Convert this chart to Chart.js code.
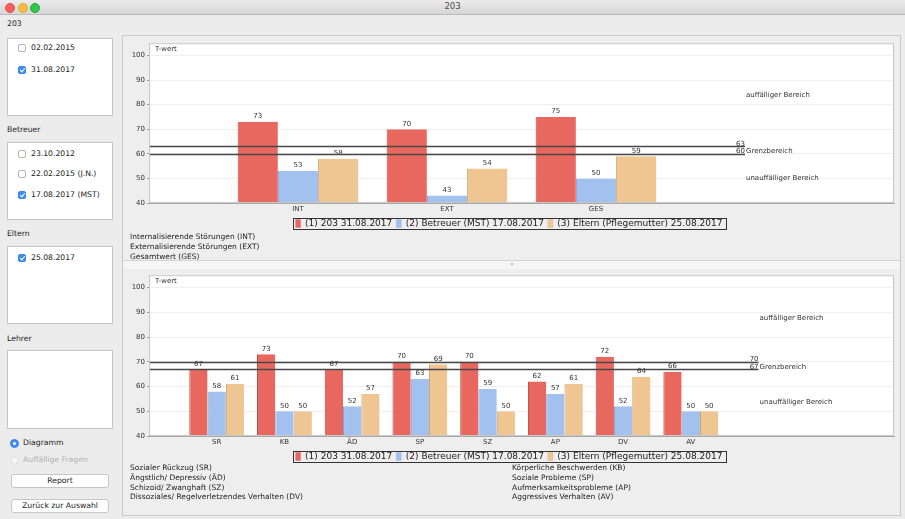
<!DOCTYPE html>
<html>
<head>
<meta charset="utf-8">
<script src="https://cdn.jsdelivr.net/npm/chart.js@4.4.1/dist/chart.umd.min.js"></script>
<style>
  body { margin: 0; width: 905px; height: 519px; background: #ececec; overflow: hidden; position: relative;
         font-family: "DejaVu Sans", sans-serif; color: #222; }
  .abs { position: absolute; }
  .titlebar { left: 0; top: 0; width: 905px; height: 14px; background: linear-gradient(#ebebeb, #d6d6d6);
              border-bottom: 1px solid #b8b8b8; }
  .light { width: 8px; height: 8px; border-radius: 50%; top: 3px; }
  .title { left: 0; width: 905px; top: 1px; text-align: center; font-size: 8.5px; color: #4d4d4d; }
  .lbl { font-size: 7.7px; color: #222; }
  .box { background: #fff; border: 1px solid #c4c4c4; }
  .item { font-size: 7.7px; line-height: 10px; }
  .cb { width: 8px; height: 8px; border-radius: 2px; border: 1px solid #b5b5b5; background: #fff; box-sizing: border-box; }
  .cb.on { background: #3d8ff5; border-color: #3a85e6; }
  .cb.on::after { content: ""; position: absolute; left: 2px; top: 0px; width: 2px; height: 4px;
                  border: solid #fff; border-width: 0 1.2px 1.2px 0; transform: rotate(40deg); }
  .radio { width: 9px; height: 9px; border-radius: 50%; box-sizing: border-box; }
  .btn { background: #fff; border: 1px solid #c6c6c6; border-radius: 3px; font-size: 7.7px; text-align: center;
         line-height: 12px; box-sizing: border-box; }
  .panel { left: 122px; top: 35px; width: 779px; height: 481px; border: 1px solid #c9c9c9; box-sizing: border-box; background: #eeeeee; }
  .divider { left: 123px; top: 260px; width: 777px; height: 8px; background: #f5f5f5; border-top: 1px solid #d4d4d4; }
  .desc { font-size: 7.5px; line-height: 9.8px; color: #222; white-space: nowrap; }
</style>
</head>
<body>
<div class="abs titlebar"></div>
<div class="abs light" style="left:5px;background:#fc605b;border:0.5px solid #de4a44"></div>
<div class="abs light" style="left:18px;background:#fdbc40;border:0.5px solid #dea236"></div>
<div class="abs light" style="left:30px;background:#34c84a;border:0.5px solid #27aa35"></div>
<div class="abs title">203</div>

<!-- left side -->
<div class="abs lbl" style="left:7px;top:19px">203</div>
<div class="abs box" style="left:7px;top:38px;width:104px;height:76px"></div>
<div class="abs cb" style="left:18px;top:44px"></div><div class="abs item" style="left:31px;top:43px">02.02.2015</div>
<div class="abs cb on" style="left:18px;top:66px"></div><div class="abs item" style="left:31px;top:65px">31.08.2017</div>

<div class="abs lbl" style="left:7px;top:125px">Betreuer</div>
<div class="abs box" style="left:7px;top:142px;width:104px;height:76px"></div>
<div class="abs cb" style="left:18px;top:150px"></div><div class="abs item" style="left:31px;top:149px">23.10.2012</div>
<div class="abs cb" style="left:18px;top:170px"></div><div class="abs item" style="left:31px;top:169px">22.02.2015 (J.N.)</div>
<div class="abs cb on" style="left:18px;top:191px"></div><div class="abs item" style="left:31px;top:190px">17.08.2017 (MST)</div>

<div class="abs lbl" style="left:7px;top:229px">Eltern</div>
<div class="abs box" style="left:7px;top:246px;width:104px;height:76px"></div>
<div class="abs cb on" style="left:18px;top:254px"></div><div class="abs item" style="left:31px;top:253px">25.08.2017</div>

<div class="abs lbl" style="left:7px;top:334px">Lehrer</div>
<div class="abs box" style="left:7px;top:350px;width:104px;height:77px"></div>

<div class="abs radio" style="left:10px;top:439px;background:#3d8ff5;border:1px solid #3a85e6"></div>
<div class="abs" style="left:13px;top:442px;width:3px;height:3px;border-radius:50%;background:#fff"></div>
<div class="abs item" style="left:23px;top:438px">Diagramm</div>
<div class="abs radio" style="left:10px;top:456px;background:#f4f4f4;border:1px solid #dcdcdc"></div>
<div class="abs item" style="left:23px;top:455px;color:#b0b0b0">Auffällige Fragen</div>

<div class="abs btn" style="left:11px;top:474px;width:98px;height:14px">Report</div>
<div class="abs btn" style="left:11px;top:499px;width:98px;height:14px">Zurück zur Auswahl</div>

<!-- right side -->
<div class="abs panel"></div>
<div class="abs" style="left:124px;top:37px;width:774px;height:201px"><canvas id="topChart"></canvas></div>
<div class="abs desc" style="left:130px;top:232px">Internalisierende Störungen (INT)<br>Externalisierende Störungen (EXT)<br>Gesamtwert (GES)</div>
<div class="abs divider"></div>
<div class="abs" style="left:511px;top:263px;width:2px;height:2px;background:#aaa;border-radius:1px"></div>
<div class="abs" style="left:124px;top:269px;width:774px;height:202px"><canvas id="bottomChart"></canvas></div>
<div class="abs desc" style="left:130px;top:463px">Sozialer Rückzug (SR)<br>Ängstlich/ Depressiv (ÄD)<br>Schizoid/ Zwanghaft (SZ)<br>Dissoziales/ Regelverletzendes Verhalten (DV)</div>
<div class="abs desc" style="left:512px;top:463px">Körperliche Beschwerden (KB)<br>Soziale Probleme (SP)<br>Aufmerksamkeitsprobleme (AP)<br>Aggressives Verhalten (AV)</div>

<script>
// Series names
const seriesNames = [
  '(1) 203 31.08.2017',
  '(2) Betreuer (MST) 17.08.2017',
  '(3) Eltern (Pflegemutter) 25.08.2017',
];
const seriesColors = ['#e8685f', '#a2c1ee', '#efc591'];
const seriesEdges = ['#b9473f', '#7f9cc8', '#c79f6c'];

// Upper chart: scale totals
const topCategories = ['INT', 'EXT', 'GES'];
const topSelf = [73, 70, 75];
const topCarer = [53, 43, 50];
const topParent = [58, 54, 59];
const topLimits = [63, 60];

// Lower chart: syndrome scales
const bottomCategories = ['SR', 'KB', 'ÄD', 'SP', 'SZ', 'AP', 'DV', 'AV'];
const bottomSelf = [67, 73, 67, 70, 70, 62, 72, 66];
const bottomCarer = [58, 50, 52, 63, 59, 57, 52, 50];
const bottomParent = [61, 50, 57, 69, 50, 61, 64, 50];
const bottomLimits = [70, 67];

// y axis
const yTicks = [40, 50, 60, 70, 80, 90, 100];
const yMin = 40;
const yMax = 105;

const chartFont = 'DejaVu Sans';

// empty category slots before / after the real ones
function pad(arr, lead, trail, fill) {
  return [...Array(lead).fill(fill), ...arr, ...Array(trail).fill(fill)];
}

// white plot background
const plotBackground = {
  id: 'plotBackground',
  beforeDraw(chart) {
    const { ctx, chartArea: area } = chart;
    ctx.save();
    ctx.fillStyle = '#ffffff';
    ctx.fillRect(area.left, area.top, area.width, area.height);
    ctx.restore();
  },
};

const annotate = {
  id: 'annotate',
  afterDatasetsDraw(chart, args, opts) {
    const { ctx, chartArea: area, scales: { x, y } } = chart;
    ctx.save();

    // value above every bar
    ctx.fillStyle = '#333';
    ctx.font = `7px "${chartFont}"`;
    ctx.textAlign = 'center';
    ctx.textBaseline = 'bottom';
    chart.data.datasets.forEach((ds, i) => {
      chart.getDatasetMeta(i).data.forEach((bar, j) => {
        if (ds.data[j] == null) return;
        ctx.fillText(String(ds.data[j]), bar.x, bar.y - 2);
      });
    });

    // limit lines
    const endX = x.getPixelForValue(opts.endIndex);
    ctx.strokeStyle = '#474747';
    ctx.lineWidth = 1.6;
    opts.limits.forEach((v) => {
      const py = Math.round(y.getPixelForValue(v)) + 0.5;
      ctx.beginPath();
      ctx.moveTo(area.left, py);
      ctx.lineTo(endX, py);
      ctx.stroke();
    });

    ctx.font = `7px "${chartFont}"`;
    ctx.fillStyle = '#333';
    ctx.textBaseline = 'alphabetic';
    ctx.textAlign = 'right';
    opts.limits.forEach((v) => {
      ctx.fillText(String(v), endX, y.getPixelForValue(v) - 0.5);
    });
    ctx.textAlign = 'left';
    const hi = Math.max(...opts.limits);
    const lo = Math.min(...opts.limits);
    ctx.fillText('Grenzbereich', endX + 1, y.getPixelForValue(lo) - 0.5);
    ctx.textBaseline = 'middle';
    ctx.fillText('auffälliger Bereich', endX + 1, y.getPixelForValue((hi + yMax) / 2));
    ctx.fillText('unauffälliger Bereich', endX + 1, y.getPixelForValue((lo + yMin) / 2));

    // axis title inside the plot
    ctx.textBaseline = 'top';
    ctx.fillText('T-wert', area.left + 6, area.top + 2);

    // plot frame
    ctx.strokeStyle = '#c8c8c8';
    ctx.lineWidth = 1;
    ctx.strokeRect(area.left + 0.5, area.top + 0.5, area.width - 1, area.height - 1);
    ctx.restore();
  },
};

const legendFrame = {
  id: 'legendFrame',
  afterDraw(chart) {
    const boxes = chart.legend.legendHitBoxes;
    if (!boxes || !boxes.length) return;
    const left = boxes[0].left - 3;
    const last = boxes[boxes.length - 1];
    const right = last.left + last.width + 3;
    const top = boxes[0].top - 1;
    const { ctx } = chart;
    ctx.save();
    ctx.strokeStyle = '#333';
    ctx.lineWidth = 1;
    ctx.strokeRect(Math.round(left) + 0.5, Math.round(top) + 0.5, Math.round(right - left), boxes[0].height + 2);
    ctx.restore();
  },
};

function makeChart(canvasId, categories, values, limits, lead, trail) {
  const labels = pad(categories, lead, trail, '');
  const datasets = values.map((vals, i) => ({
    label: seriesNames[i],
    data: pad(vals, lead, trail, null),
    backgroundColor: seriesColors[i],
    borderColor: seriesEdges[i],
    borderWidth: { left: 1, top: 0, right: 0, bottom: 0 },
    borderSkipped: false,
    categoryPercentage: 0.81,
    barPercentage: 1.0,
  }));

  return new Chart(document.getElementById(canvasId).getContext('2d'), {
    type: 'bar',
    data: { labels, datasets },
    options: {
      responsive: true,
      maintainAspectRatio: false,
      animation: false,
      layout: { padding: { top: 5, right: 4, left: 0, bottom: 0 } },
      scales: {
        x: {
          offset: false,
          grid: { display: false, drawTicks: false, tickLength: 0 },
          border: { display: true, color: '#a8a8a8' },
          ticks: { autoSkip: false, maxRotation: 0, padding: 2, color: '#333', font: { family: chartFont, size: 7 } },
          afterFit: (scale) => { scale.height = 12; },
        },
        y: {
          min: yMin,
          max: yMax,
          grid: { color: '#efefef', tickColor: '#9a9a9a', tickLength: 2 },
          border: { display: true, color: '#a8a8a8' },
          ticks: { stepSize: 10, padding: 2, color: '#333', font: { family: chartFont, size: 7 } },
          afterBuildTicks: (scale) => {
            scale.ticks = yTicks.map((v) => ({ value: v }));
          },
          afterFit: (scale) => { scale.width = 25; },
        },
      },
      plugins: {
        tooltip: { enabled: false },
        legend: {
          position: 'bottom',
          labels: {
            boxWidth: 5,
            boxHeight: 8,
            padding: 4,
            color: '#222',
            font: { family: chartFont, size: 9 },
          },
        },
        annotate: { limits, endIndex: lead + categories.length },
      },
    },
    plugins: [plotBackground, annotate, legendFrame],
  });
}

makeChart('topChart', topCategories, [topSelf, topCarer, topParent], topLimits, 1, 2);
makeChart('bottomChart', bottomCategories, [bottomSelf, bottomCarer, bottomParent], bottomLimits, 1, 3);
</script>
</body>
</html>
